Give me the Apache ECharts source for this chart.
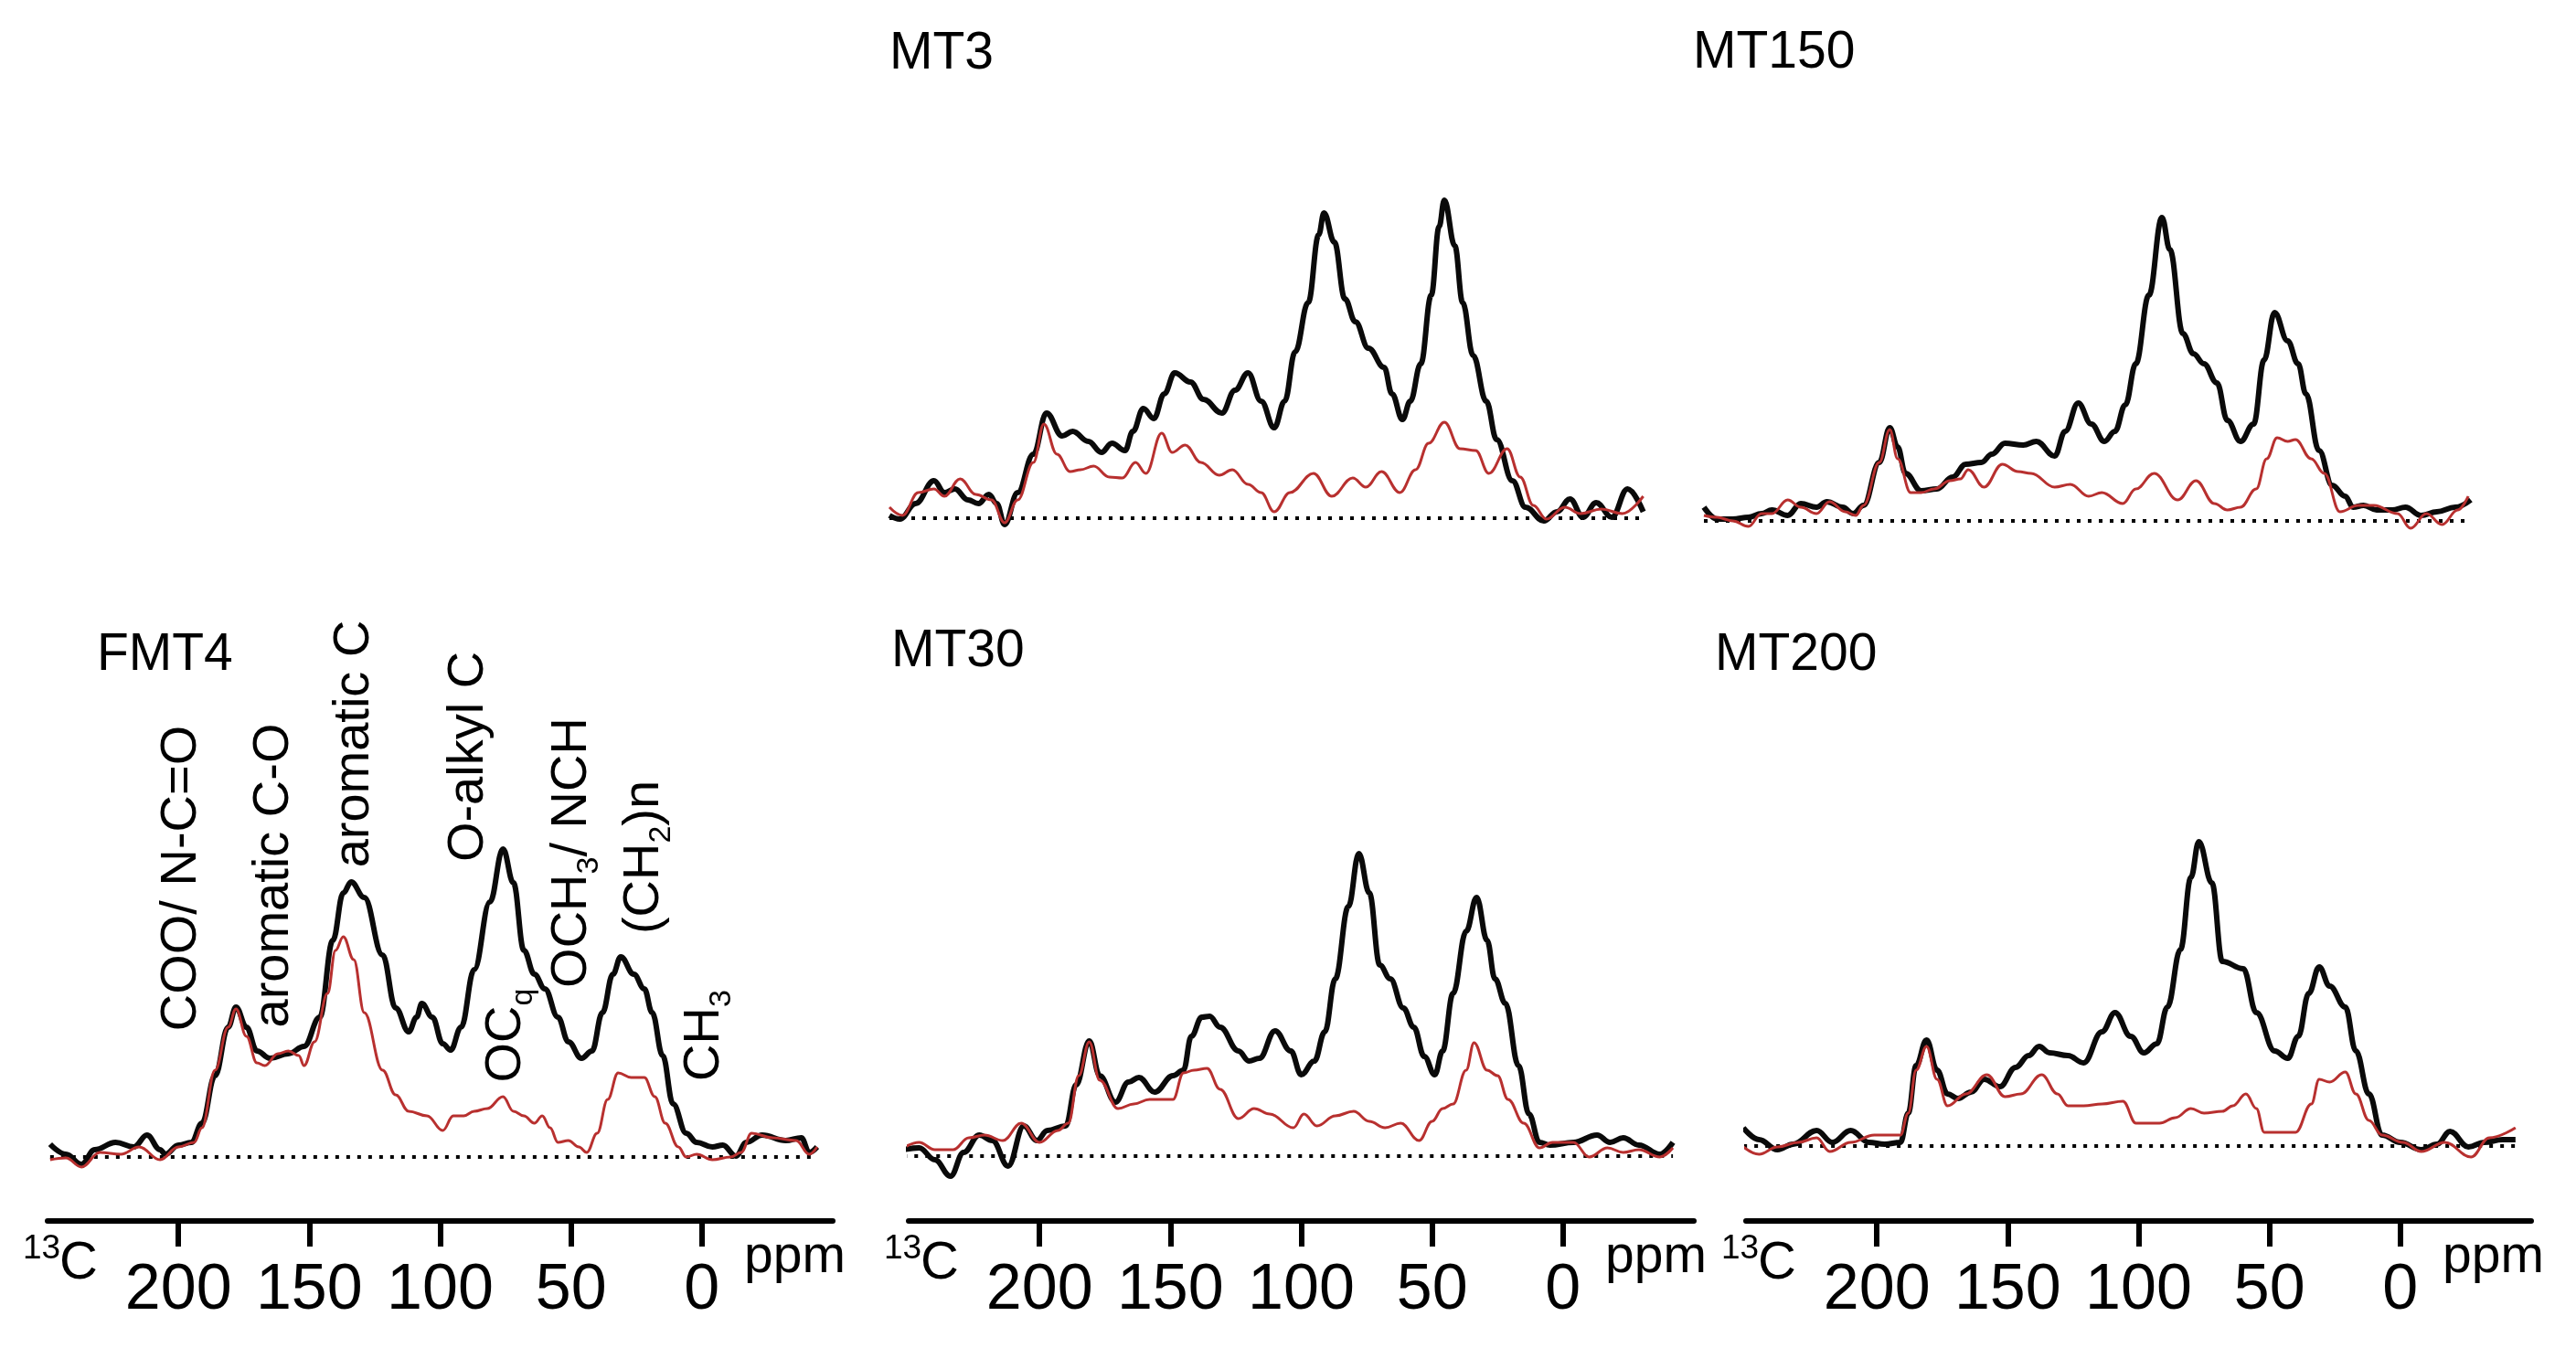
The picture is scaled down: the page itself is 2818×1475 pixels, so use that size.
<!DOCTYPE html>
<html>
<head>
<meta charset="utf-8">
<title>13C CPMAS NMR spectra</title>
<script src="https://cdn.jsdelivr.net/npm/echarts@6.0.0/dist/echarts.min.js"></script>
<style>
  html, body { margin: 0; padding: 0; background: #fff; }
  #chart { width: 2818px; height: 1475px; }
</style>
</head>
<body>
<div id="chart"></div>
<script>
// chemical shift ticks (ppm)
var tickValues = [200, 150, 100, 50, 0];

// ---- FMT4 ----
var fmt4BlackPpm = [249,243,237,232,224,217,212,207,205,200,195,191,186,181,178,174,170,165,158,152,146,141,137,134,129,122,117,112,109,107,103,99,96,92,87,81,76,72,68,64,60,55,51,46,42,38,34,31,26,22,19,15,11,6,2,-4,-8,-13,-17,-23,-32,-38,-41,-44];
var fmt4Black    = [14,3,-8,8,16,11,24,8,3,13,16,37,89,142,164,142,116,108,113,121,153,237,289,301,284,221,163,137,153,168,153,124,117,142,205,279,337,300,226,200,184,153,126,108,116,158,200,219,200,184,158,111,58,26,16,11,13,1,16,24,18,21,5,11];
var fmt4RedPpm   = [249,243,237,230,222,215,207,200,194,191,186,181,178,174,170,167,162,158,154,152,148,143,140,137,133,129,122,117,112,105,99,95,91,87,82,76,72,68,64,61,58,55,51,47,44,40,36,32,27,22,18,14,9,6,2,-4,-11,-15,-19,-27,-36,-41,-44];
var fmt4Red      = [-3,-1,-11,5,3,11,-3,11,16,32,95,142,162,132,103,100,113,116,111,100,126,179,226,241,216,158,95,68,50,45,29,45,45,50,53,66,50,45,37,45,32,16,18,11,5,26,63,92,87,87,66,37,11,0,3,-3,0,5,26,21,18,3,11];

// ---- MT30 ----
var mt30BlackPpm = [252,246,240,234,229,223,218,212,206,201,197,190,186,181,177,171,166,162,156,149,145,142,138,135,131,124,120,116,110,104,100,95,91,87,82,78,74,70,66,61,57,53,49,46,42,37,33,29,26,22,17,13,9,5,-4,-13,-18,-23,-29,-37,-42];
var mt30Black    = [7,9,-4,-22,4,23,17,-11,33,17,28,33,78,126,88,59,81,86,70,88,94,131,152,153,141,115,104,107,137,115,89,104,136,194,273,331,288,209,194,162,141,109,89,115,178,246,283,236,194,167,99,46,15,12,15,23,15,20,12,2,15];
var mt30RedPpm   = [252,246,240,233,227,221,214,207,200,193,189,185,181,177,170,164,158,149,145,141,136,131,124,118,112,103,99,94,87,80,74,68,62,55,50,46,42,37,34,29,25,21,15,9,4,-4,-10,-17,-23,-29,-37,-42];
var mt30Red      = [9,15,7,7,20,23,17,36,15,28,36,88,125,83,52,57,62,62,91,94,96,73,41,52,46,31,46,33,44,49,38,31,36,17,38,52,57,94,124,94,88,62,36,9,15,15,-1,9,4,7,-1,9];

// ---- MT200 ----
var mt200BlackPpm = [251,245,238,232,223,217,210,203,197,191,188,185,181,177,173,169,164,159,153,147,142,138,134,127,121,114,109,103,98,93,89,84,80,77,72,68,60,55,48,43,39,35,31,27,21,17,12,7,0,-8,-14,-19,-26,-32,-39,-44];
var mt200Black    = [20,7,-4,2,17,4,17,4,2,4,36,88,116,83,57,52,59,73,65,86,99,109,102,99,91,125,146,120,102,112,152,215,294,333,288,202,194,146,104,96,120,167,196,175,152,104,57,12,4,-4,2,16,-1,4,7,7];
var mt200RedPpm   = [251,245,238,230,223,218,210,201,191,188,185,181,177,173,166,158,151,145,137,131,127,121,114,106,101,92,86,80,75,68,64,59,55,52,46,40,34,31,27,21,17,12,7,-1,-8,-17,-27,-34,-44];
var mt200Red      = [-1,-9,-1,4,9,-6,4,12,12,36,83,109,73,44,57,78,54,57,78,57,44,44,46,49,25,25,31,41,36,38,44,57,41,15,15,15,46,73,70,81,57,28,12,4,-6,4,-12,9,20];

// ---- MT3 ----
var mt3BlackPpm = [250,246,240,233,229,225,220,216,212,209,206,201,195,190,184,180,174,169,165,160,157,153,149,145,141,135,130,123,118,113,108,103,99,95,90,86,84,80,76,72,67,61,58,54,51,47,43,40,38,34,31,27,22,18,12,7,0,-5,-10,-15,-20,-26,-32,-38];
var mt3Black    = [3,-1,16,41,28,32,20,16,26,16,-7,28,70,115,90,95,84,72,82,74,95,120,109,136,159,149,130,115,140,159,128,99,128,182,236,310,334,302,240,215,186,165,136,108,128,169,244,319,348,298,236,178,128,86,41,12,-3,7,21,1,17,1,32,7];
var mt3RedPpm   = [250,245,239,233,229,223,217,211,206,201,195,191,186,181,177,172,166,161,156,152,146,142,137,131,124,119,113,108,103,97,88,81,73,68,62,55,49,44,38,32,26,21,14,9,4,-1,-8,-14,-22,-30,-38];
var mt3Red      = [12,3,28,32,24,43,26,20,-5,20,61,103,70,51,53,57,45,44,61,49,93,72,80,61,47,53,37,28,7,28,49,24,44,34,51,28,53,82,105,76,74,49,76,45,14,-1,12,5,10,5,24];

// ---- MT150 ----
var mt150BlackPpm = [250,245,239,233,228,224,218,213,207,203,197,193,189,183,179,176,173,167,161,155,150,144,140,135,128,123,116,112,107,102,97,93,89,85,80,75,72,67,63,59,54,50,45,40,36,32,27,23,20,15,10,5,2,-2,-7,-13,-18,-24,-30,-37,-43];
var mt150Black    = [15,2,2,4,8,12,6,19,15,21,15,8,17,64,102,81,52,33,35,48,62,64,73,85,83,87,71,98,129,106,87,98,127,172,247,332,297,205,183,172,151,110,87,106,176,228,197,172,139,77,39,27,15,17,12,12,15,6,10,15,23];
var mt150RedPpm   = [250,245,239,233,228,224,218,213,207,202,196,192,189,183,179,176,171,167,162,156,152,149,143,136,130,125,116,110,103,98,90,85,78,69,62,55,50,45,39,35,31,27,24,18,13,7,0,-6,-15,-20,-26,-32,-38,-42];
var mt150Red      = [6,4,0,-6,8,8,23,15,8,21,10,6,17,64,100,68,31,31,35,44,46,56,37,62,54,52,37,40,27,31,19,35,52,23,44,19,12,15,35,68,91,87,89,68,52,10,17,17,8,-8,8,-4,12,27];

var FONT = '"Liberation Sans", Arial, sans-serif';

function pairs(xs, ys) {
  return xs.map(function (x, i) { return [x, ys[i]]; });
}

// panel layout: grid position in px and y range (baseline = 0)
var panels = [
  { name: 'FMT4',  left: 52,   top: 896, height: 440, yMin: -70, axis: true,
    bp: fmt4BlackPpm,  b: fmt4Black,  rp: fmt4RedPpm,  r: fmt4Red },
  { name: 'MT30',  left: 994,  top: 895, height: 441, yMin: -71, axis: true,
    bp: mt30BlackPpm,  b: mt30Black,  rp: mt30RedPpm,  r: mt30Red },
  { name: 'MT200', left: 1910, top: 884, height: 452, yMin: -82, axis: true,
    bp: mt200BlackPpm, b: mt200Black, rp: mt200RedPpm, r: mt200Red },
  { name: 'MT3',   left: 973,  top: 197, height: 420, yMin: -50, axis: false,
    bp: mt3BlackPpm,   b: mt3Black,   rp: mt3RedPpm,   r: mt3Red },
  { name: 'MT150', left: 1864, top: 200, height: 420, yMin: -50, axis: false,
    bp: mt150BlackPpm, b: mt150Black, rp: mt150RedPpm, r: mt150Red }
];

var grids = [], xAxes = [], yAxes = [], series = [];

panels.forEach(function (p, i) {
  grids.push({ left: p.left, top: p.top, width: 859, height: p.height });
  xAxes.push({
    gridIndex: i,
    type: 'value',
    inverse: true,
    min: -50,
    max: 250,
    interval: 50,
    show: p.axis,
    axisLine: { show: true, onZero: false, lineStyle: { color: '#000', width: 6 } },
    axisTick: { show: true, inside: false, length: 28, customValues: tickValues,
      lineStyle: { color: '#000', width: 6 } },
    axisLabel: { show: true, customValues: tickValues, margin: 42,
      fontSize: 70, lineHeight: 70, fontFamily: FONT, color: '#000' },
    splitLine: { show: false }
  });
  yAxes.push({
    gridIndex: i, type: 'value', show: false,
    min: p.yMin, max: p.yMin + p.height,
    splitLine: { show: false }
  });
  // dotted zero line under the traces
  series.push({
    type: 'line', xAxisIndex: i, yAxisIndex: i, silent: true,
    data: [[p.bp[0], 0], [p.bp[p.bp.length - 1], 0]],
    symbol: 'none',
    lineStyle: { color: '#000', width: 4, type: [4, 8] }
  });
  series.push({
    type: 'line', xAxisIndex: i, yAxisIndex: i, silent: true,
    data: pairs(p.bp, p.b),
    symbol: 'none', smooth: 0.4, smoothMonotone: 'x',
    lineStyle: { color: '#0a0a0a', width: 6 }
  });
  series.push({
    type: 'line', xAxisIndex: i, yAxisIndex: i, silent: true,
    data: pairs(p.rp, p.r),
    symbol: 'none', smooth: 0.4, smoothMonotone: 'x',
    lineStyle: { color: '#b8302f', width: 3 }
  });
});

function label(text, x, y, size) {
  return {
    type: 'text', x: x, y: y, silent: true,
    style: { text: text, fill: '#000', fontSize: size, fontFamily: FONT,
      align: 'left', verticalAlign: 'middle', textAlign: 'left', textVerticalAlign: 'middle' }
  };
}

// rotated peak assignment (reads bottom to top), subscripts via rich text
var richStyles = {
  n: { fontSize: 56, fontFamily: FONT, lineHeight: 56, verticalAlign: 'top', fill: '#000' },
  s: { fontSize: 34, fontFamily: FONT, lineHeight: 34, verticalAlign: 'top', padding: [30, 0, 0, 0], fill: '#000' }
};
function assign(text, x, y) {
  return {
    type: 'text', x: x, y: y, rotation: Math.PI / 2, silent: true,
    style: { text: text, rich: richStyles, fill: '#000',
      align: 'center', verticalAlign: 'middle', textAlign: 'center', textVerticalAlign: 'middle' }
  };
}

var graphics = [
  label('FMT4', 106, 717, 57),
  label('MT30', 975, 713, 57),
  label('MT200', 1876, 717, 57),
  label('MT3', 973, 59, 57),
  label('MT150', 1852, 58, 57),
  assign('{n|COO/ N-C=O}', 199, 961),
  assign('{n|aromatic C-O}', 300, 958),
  assign('{n|aromatic C}', 388, 814),
  assign('{n|O-alkyl C}', 513, 828),
  assign('{n|OCH}{s|3}{n|/ NCH}', 626, 933),
  assign('{n|(CH}{s|2}{n|)n}', 705, 938),
  assign('{n|OC}{s|q}', 554, 1133),
  assign('{n|CH}{s|3}', 771, 1133)
];

// 13C and ppm captions for the three bottom axes
panels.filter(function (p) { return p.axis; }).forEach(function (p) {
  graphics.push(label('13', p.left - 27, 1367, 37));
  graphics.push(label('C', p.left + 13, 1383, 58));
  graphics.push(label('ppm', p.left + 859 - 97, 1376, 57));
});

var myChart = echarts.init(document.getElementById('chart'));
myChart.setOption({
  animation: false,
  backgroundColor: '#fff',
  grid: grids,
  xAxis: xAxes,
  yAxis: yAxes,
  series: series,
  graphic: { elements: graphics }
});
</script>
</body>
</html>
